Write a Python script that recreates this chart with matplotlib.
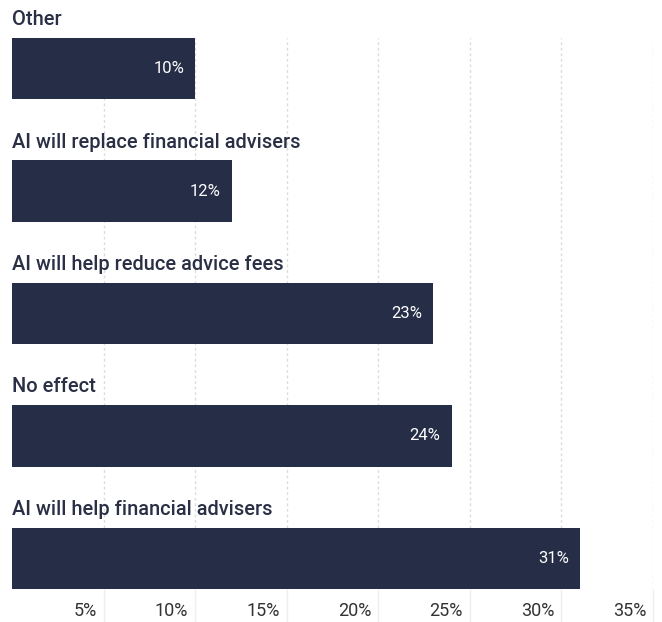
import matplotlib
matplotlib.use("Agg")
import matplotlib.pyplot as plt
from matplotlib.transforms import ScaledTranslation

categories = [
    "Other",
    "AI will replace financial advisers",
    "AI will help reduce advice fees",
    "No effect",
    "AI will help financial advisers",
]
values = [10, 12, 23, 24, 31]
tick_values = [5, 10, 15, 20, 25, 30, 35]
tick_labels = ["5%", "10%", "15%", "20%", "25%", "30%", "35%"]

BAR_COLOR = "#262d46"
TEXT_COLOR = "#2a2f45"
W, H = 662, 622

fig = plt.figure(figsize=(W / 100, H / 100), dpi=100)
left, right, top, bottom = 12, 653, 38, 589
ax = fig.add_axes([left / W, 1 - bottom / H, (right - left) / W, (bottom - top) / H])

pos = list(range(len(categories)))
ax.barh(pos, values, height=0.5, color=BAR_COLOR, zorder=3)
ax.set_xlim(0, 35)
ax.set_ylim(len(categories) - 0.75, -0.25)

for p, cat, v in zip(pos, categories, values):
    ax.text(0, p - 0.25 - 0.15, cat, ha="left", va="center",
            fontsize=14.4, fontfamily="Roboto", fontweight="medium",
            color=TEXT_COLOR)
    ax.text(v, p, f"{v}%", ha="right", va="center", fontsize=12,
            fontfamily="Roboto", color="white", zorder=4,
            transform=ax.transData + ScaledTranslation(-11 / 100, 0, fig.dpi_scale_trans))

ax.set_yticks([])
ax.set_xticks(tick_values)
ax.set_xticklabels(tick_labels, fontsize=13, fontfamily="Roboto", color="#333333")
ax.tick_params(axis="x", direction="out", length=24, width=1, color="#eeeeee", pad=-14.5)
for lab in ax.get_xticklabels():
    lab.set_horizontalalignment("right")
    lab.set_transform(lab.get_transform() + ScaledTranslation(-7 / 100, 0, fig.dpi_scale_trans))

ax.grid(axis="x", linestyle=(0, (2, 2)), color="#dcdcdc", linewidth=1, zorder=0)
for s in ax.spines.values():
    s.set_visible(False)

fig.savefig("out.png", dpi=100, facecolor="white")
